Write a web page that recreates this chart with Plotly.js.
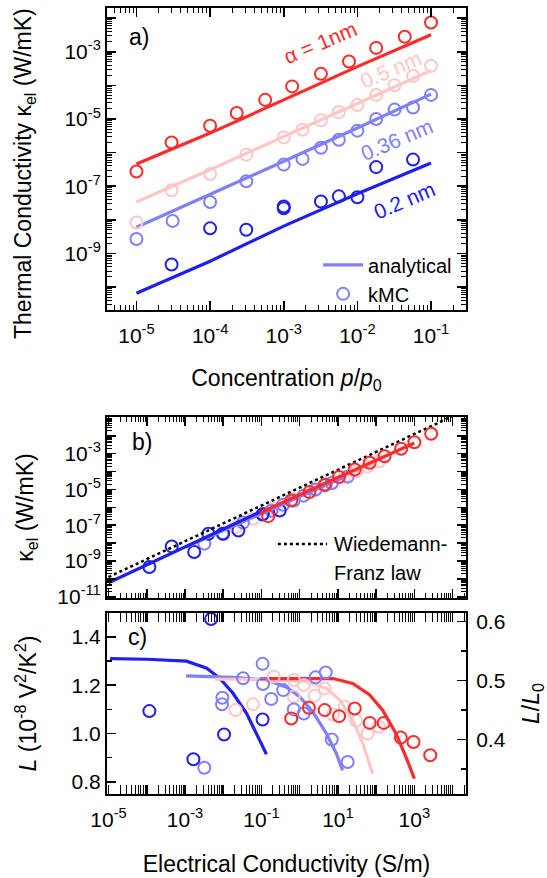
<!DOCTYPE html>
<html><head><meta charset="utf-8">
<script src="https://cdn.plot.ly/plotly-3.0.1.min.js"></script>
<style>html,body{margin:0;padding:0;background:#fff}#chart{width:547px;height:878px}</style>
</head><body><div id="chart"></div>
<script>
// ---------- colours ----------
const cRed = '#ff2a2a', cPink = '#ffc6c6', cLBlue = '#7f7fff', cBlue = '#2020ee';

// ---------- panel a: analytical lines (kappa vs p/p0) ----------
const concLine = [1e-5, 1e-4, 1e-3, 1e-2, 1e-1];
const kapLineRed   = [4.6e-7, 3.8e-6, 3.7e-5, 3.6e-4, 3.2e-3];
const kapLinePink  = [3.4e-8, 3.1e-7, 3.0e-6, 2.95e-5, 2.75e-4];
const kapLineLBlue = [6.0e-9, 5.6e-8, 5.5e-7, 5.4e-6, 5.5e-5];
const kapLineBlue  = [6.6e-11, 5.9e-10, 6.5e-9, 6.0e-8, 4.9e-7];

// ---------- panel a: kMC points ----------
const concRed   = [1e-5, 3e-5, 1e-4, 2.3e-4, 5.6e-4, 1.3e-3, 3.2e-3, 7.7e-3, 1.8e-2, 4.4e-2, 1e-1];
const kapRed    = [2.75e-7, 2.0e-6, 6.3e-6, 1.5e-5, 3.7e-5, 9.3e-5, 2.2e-4, 5.1e-4, 1.3e-3, 2.8e-3, 7.4e-3];
const concPink  = [1e-5, 3e-5, 1e-4, 3.1e-4, 1e-3, 1.8e-3, 3.2e-3, 5.6e-3, 1e-2, 1.8e-2, 3.2e-2, 5.7e-2, 1e-1];
const kapPink   = [8.3e-9, 7.6e-8, 2.3e-7, 8.7e-7, 2.8e-6, 4.8e-6, 9.1e-6, 1.6e-5, 2.6e-5, 5.2e-5, 1.0e-4, 1.9e-4, 3.8e-4];
const concLBlue = [1e-5, 3.1e-5, 1e-4, 3.1e-4, 1e-3, 1.8e-3, 3.2e-3, 5.6e-3, 1e-2, 1.8e-2, 3.2e-2, 5.7e-2, 1e-1];
const kapLBlue  = [2.7e-9, 9.3e-9, 3.4e-8, 1.4e-7, 4.4e-7, 6.5e-7, 1.4e-6, 2.4e-6, 4.5e-6, 1.0e-5, 1.9e-5, 2.2e-5, 5.2e-5];
const concBlue  = [3e-5, 1e-4, 3.1e-4, 1e-3, 1e-3, 3.2e-3, 5.6e-3, 1e-2, 1.8e-2, 5.7e-2];
const kapBlue   = [4.7e-10, 5.6e-9, 5.1e-9, 2.5e-8, 2.2e-8, 3.5e-8, 5.0e-8, 4.7e-8, 3.7e-7, 6.2e-7];

// ---------- panel b: kappa vs sigma ----------
const sigWF = [1e-5, 1e4];
const kapWF = [1.26e-10, 1.26e-1];
const sigLineBRed = [9.1e-2, 1e3],   kapLineBRed = [5.0e-7, 4.0e-3];
const sigLineBPink = [6.2e-3, 8.1e1], kapLineBPink = [3.4e-8, 2.75e-4];
const sigLineBLBlue = [1.07e-3, 1.6e1], kapLineBLBlue = [6.0e-9, 5.5e-5];
const sigLineBBlue = [1e-5, 1.1e-1],  kapLineBBlue = [6.0e-11, 6.6e-7];

const sigBRed  = [1.5e-1, 6.0e-1, 1.8, 4.5, 1.07e1, 2.75e1, 6.8e1, 1.66e2, 4.5e2, 1.0e3, 2.75e3];
const kapBRed  = [3.2e-7, 2.4e-6, 7.1e-6, 1.8e-5, 4.9e-5, 1.3e-4, 3.1e-4, 7.2e-4, 1.9e-3, 4.4e-3, 1.3e-2];
const sigBPink = [2.1e-2, 6.0e-2, 2.1e-1, 7.0e-1, 1.3, 2.5, 4.5, 7.4, 1.5e1, 3.0e1, 6.0e1, 1.2e2];
const kapBPink = [7.6e-8, 2.3e-7, 8.7e-7, 2.8e-6, 4.8e-6, 9.1e-6, 1.6e-5, 2.6e-5, 5.2e-5, 1.0e-4, 1.9e-4, 3.8e-4];
const sigBLBlue = [3.2e-3, 9.5e-3, 3.3e-2, 1.1e-1, 1.8e-1, 3.7e-1, 7.0e-1, 1.27, 2.6, 4.8, 6.9, 1.8e1];
const kapBLBlue = [9.3e-9, 3.4e-8, 1.4e-7, 4.4e-7, 6.5e-7, 1.4e-6, 2.4e-6, 4.5e-6, 1.0e-5, 1.9e-5, 2.2e-5, 5.2e-5];
const sigBBlue = [1.17e-4, 4.5e-4, 1.74e-3, 4.1e-3, 1e-2, 2.5e-2, 1.07e-1, 3.0e-1];
const kapBBlue = [4.6e-10, 6.5e-9, 3.2e-9, 3.3e-8, 3.3e-8, 5.0e-8, 4.0e-7, 6.6e-7];

// ---------- panel c: Lorenz number vs sigma ----------
const sigLineCRed   = [9.1e-2, 7.4, 2.45e1, 6.8e1, 1.48e2, 3.3e2, 6.0e2, 1.0e3];
const LLineCRed     = [1.228, 1.228, 1.208, 1.160, 1.097, 1.000, 0.903, 0.813];
const sigLineCPink  = [6.0e-3, 1.35e-1, 1.5, 5.0, 1.12e1, 2.45e1, 4.5e1, 8.1e1];
const LLineCPink    = [1.225, 1.225, 1.215, 1.187, 1.139, 1.055, 0.958, 0.833];
const sigLineCLBlue = [1.07e-3, 1.8e-2, 1.35e-1, 4.5e-1, 1.0, 2.2, 5.0, 9.1, 1.32e1];
const LLineCLBlue   = [1.239, 1.233, 1.222, 1.192, 1.153, 1.090, 1.000, 0.917, 0.847];
const sigLineCBlue  = [1.1e-5, 1e-4, 1.1e-3, 1.66e-3, 3.7e-3, 8.1e-3, 1.8e-2, 4.1e-2, 7.4e-2, 1.35e-1];
const LLineCBlue    = [1.311, 1.308, 1.300, 1.290, 1.271, 1.229, 1.167, 1.083, 1.000, 0.914];

const sigCRed   = [6.0e-1, 1.74, 4.5, 1.07e1, 2.75e1, 6.8e1, 1.58e2, 4.4e2, 9.5e2, 2.6e3];
const LCRed     = [1.062, 1.107, 1.097, 1.072, 1.104, 1.044, 1.044, 0.983, 0.965, 0.910];
const sigCPink  = [2.1e-2, 6.0e-2, 2.1e-1, 7.0e-1, 7.0e-1, 1.28, 2.45, 4.5, 7.4, 1.5e1, 3.0e1, 6.0e1, 1.17e2];
const LCPink    = [1.097, 1.121, 1.236, 1.222, 1.153, 1.201, 1.157, 1.187, 1.079, 1.111, 1.053, 1.000, 1.028];
const sigCLBlue = [3.2e-3, 9.5e-3, 9.3e-3, 3.3e-2, 1.07e-1, 1.1e-1, 1.8e-1, 3.7e-1, 7.0e-1, 1.28, 2.6, 4.8, 6.9, 1.8e1];
const LCLBlue   = [0.858, 1.148, 1.121, 1.229, 1.289, 1.205, 1.143, 1.180, 1.100, 1.083, 1.233, 1.253, 0.975, 0.882];
const sigCBlue  = [1.17e-4, 1.66e-3, 4.8e-3, 1.05e-2, 1.07e-1];
const LCBlue    = [1.093, 0.893, 1.475, 0.996, 1.058];

// ---------- tick labels ----------
const tickA_x = [1e-5, 1e-4, 1e-3, 1e-2, 1e-1];
const tickA_xText = ['10<sup>-5</sup>', '10<sup>-4</sup>', '10<sup>-3</sup>', '10<sup>-2</sup>', '10<sup>-1</sup>'];
const tickA_y = [1e-10, 1e-9, 1e-8, 1e-7, 1e-6, 1e-5, 1e-4, 1e-3, 1e-2];
const tickA_yText = ['', '10<sup>-9</sup>', '', '10<sup>-7</sup>', '', '10<sup>-5</sup>', '', '10<sup>-3</sup>', ''];
const tickB_y = [1e-11, 1e-10, 1e-9, 1e-8, 1e-7, 1e-6, 1e-5, 1e-4, 1e-3, 1e-2, 1e-1];
const tickB_yText = ['10<sup>-11</sup>', '', '10<sup>-9</sup>', '', '10<sup>-7</sup>', '', '10<sup>-5</sup>', '', '10<sup>-3</sup>', '', ''];
const tickC_x = [1e-5, 1e-4, 1e-3, 1e-2, 1e-1, 1, 1e1, 1e2, 1e3, 1e4];
const tickC_xText = ['10<sup>-5</sup>', '', '10<sup>-3</sup>', '', '10<sup>-1</sup>', '', '10<sup>1</sup>', '', '10<sup>3</sup>', ''];
const tickC_y = [0.8, 1.0, 1.2, 1.4];
const tickC_yText = ['0.8', '1.0', '1.2', '1.4'];
const tickC_y2 = [0.4, 0.5, 0.6];
const tickC_y2Text = ['0.4', '0.5', '0.6'];

function minorLog(lo, hi) { // minor tick positions 2..9 x 10^n
  const v = [];
  for (let e = lo; e <= hi; e++) for (let m = 2; m <= 9; m++) v.push(m * Math.pow(10, e));
  return v;
}

const FONT = 'Liberation Sans, Arial, sans-serif';
const tickFont = {family: FONT, size: 21, color: '#000'};
const titleFont = {family: FONT, size: 23, color: '#000'};

function axis(extra) {
  return Object.assign({
    showline: true, linewidth: 2, linecolor: '#000', mirror: 'allticks',
    ticks: 'inside', ticklen: 9, tickwidth: 1.6, tickcolor: '#000',
    showgrid: false, zeroline: false, tickfont: tickFont, tickmode: 'array',
    fixedrange: true
  }, extra);
}

const lw = 3.2;
function line(x, y, color, xa, ya, extra) {
  return Object.assign({x: x, y: y, xaxis: xa, yaxis: ya, mode: 'lines', line: {color: color, width: lw}, showlegend: false, hoverinfo: 'skip'}, extra || {});
}
function pts(x, y, color, xa, ya, extra) {
  return Object.assign({x: x, y: y, xaxis: xa, yaxis: ya, mode: 'markers',
    marker: {symbol: 'circle-open', size: 12, color: color, line: {color: color, width: 2}},
    showlegend: false, hoverinfo: 'skip'}, extra || {});
}

const traces = [
  // panel a
  line(concLine, kapLineBlue, cBlue, 'x', 'y'),
  line(concLine, kapLineLBlue, cLBlue, 'x', 'y', {showlegend: true, name: 'analytical'}),
  line(concLine, kapLinePink, cPink, 'x', 'y'),
  line(concLine, kapLineRed, cRed, 'x', 'y'),
  pts(concBlue, kapBlue, cBlue, 'x', 'y'),
  pts(concLBlue, kapLBlue, cLBlue, 'x', 'y', {showlegend: true, name: 'kMC'}),
  pts(concPink, kapPink, cPink, 'x', 'y'),
  pts(concRed, kapRed, cRed, 'x', 'y'),
  // panel b
  pts(sigBPink, kapBPink, cPink, 'x2', 'y2'),
  pts(sigBLBlue, kapBLBlue, cLBlue, 'x2', 'y2'),
  pts(sigBBlue, kapBBlue, cBlue, 'x2', 'y2'),
  line(sigLineBPink, kapLineBPink, cPink, 'x2', 'y2'),
  line(sigLineBLBlue, kapLineBLBlue, cLBlue, 'x2', 'y2'),
  line(sigWF, kapWF, '#000', 'x2', 'y2', {line: {color: '#000', width: 2.5, dash: 'dot'}}),
  line(sigLineBBlue, kapLineBBlue, cBlue, 'x2', 'y2'),
  pts(sigBRed, kapBRed, cRed, 'x2', 'y2'),
  line(sigLineBRed, kapLineBRed, cRed, 'x2', 'y2'),
  // panel c
  line(sigLineCBlue, LLineCBlue, cBlue, 'x3', 'y3'),
  line(sigLineCLBlue, LLineCLBlue, cLBlue, 'x3', 'y3'),
  line(sigLineCPink, LLineCPink, cPink, 'x3', 'y3'),
  line(sigLineCRed, LLineCRed, cRed, 'x3', 'y3'),
  pts(sigCPink, LCPink, cPink, 'x3', 'y3'),
  pts(sigCLBlue, LCLBlue, cLBlue, 'x3', 'y3'),
  pts(sigCBlue, LCBlue, cBlue, 'x3', 'y3'),
  pts(sigCRed, LCRed, cRed, 'x3', 'y3'),
  {x: [1e-3], y: [0.5], xaxis: 'x3', yaxis: 'y4', mode: 'markers', marker: {opacity: 0}, showlegend: false, hoverinfo: 'skip'}
];

const layout = {
  width: 547, height: 878,
  margin: {l: 107, r: 81, t: 8, b: 84},
  paper_bgcolor: '#fff', plot_bgcolor: '#fff',
  font: {family: FONT, color: '#000'},
  showlegend: true,
  legend: {x: 0.588, y: 0.698, xanchor: 'left', yanchor: 'top', bgcolor: 'rgba(0,0,0,0)',
    font: {family: FONT, size: 20, color: '#000'}, tracegroupgap: 0, itemwidth: 40},
  xaxis: axis({type: 'log', domain: [0, 1], anchor: 'y', range: [-5.40, -0.525],
    tickvals: tickA_x, ticktext: tickA_xText, ticklabelstandoff: 6,
    minor: {ticks: 'inside', ticklen: 5, tickwidth: 1, tickcolor: '#000', tickvals: minorLog(-6, -1)},
    title: {text: 'Concentration <i>p</i>/<i>p</i><sub>0</sub>', font: titleFont, standoff: 24}}),
  yaxis: axis({type: 'log', domain: [0.6158, 1], anchor: 'x', range: [-10.68, -1.70],
    tickvals: tickA_y, ticktext: tickA_yText,
    minor: {ticks: 'inside', ticklen: 5, tickwidth: 1, tickcolor: '#000', tickvals: minorLog(-11, -2)}}),
  xaxis2: axis({type: 'log', domain: [0, 1], anchor: 'y2', range: [-5.04, 4.35],
    tickvals: tickC_x, showticklabels: false,
    minor: {ticks: 'inside', ticklen: 5, tickwidth: 1, tickcolor: '#000', tickvals: minorLog(-6, 4)}}),
  yaxis2: axis({type: 'log', domain: [0.2494, 0.4796], anchor: 'x2', range: [-11.07, -0.95],
    tickvals: tickB_y, ticktext: tickB_yText,
    minor: {ticks: 'inside', ticklen: 5, tickwidth: 1, tickcolor: '#000', tickvals: minorLog(-12, -1)},
    title: {text: 'κ<sub>el</sub> (W/mK)', font: titleFont, standoff: 17}}),
  xaxis3: axis({type: 'log', domain: [0, 1], anchor: 'y3', range: [-5.04, 4.35],
    tickvals: tickC_x, ticktext: tickC_xText, ticklabelstandoff: 6,
    minor: {ticks: 'inside', ticklen: 5, tickwidth: 1, tickcolor: '#000', tickvals: minorLog(-6, 4)},
    title: {text: 'Electrical Conductivity (S/m)', font: titleFont, standoff: 26}}),
  yaxis3: axis({type: 'linear', domain: [0, 0.2303], anchor: 'x3', range: [0.749, 1.50], mirror: false,
    tickvals: tickC_y, ticktext: tickC_yText,
    minor: {ticks: 'inside', ticklen: 5, tickwidth: 1.6, tickcolor: '#000', tickvals: [0.9, 1.1, 1.3]},
    title: {text: '<i>L</i> (10<sup>-8</sup> V<sup>2</sup>/K<sup>2</sup>)', font: titleFont, standoff: 29}}),
  yaxis4: axis({type: 'linear', overlaying: 'y3', side: 'right', anchor: 'x3', range: [0.307, 0.6148], mirror: false,
    tickvals: tickC_y2, ticktext: tickC_y2Text, ticklabelstandoff: 4,
    minor: {ticks: 'inside', ticklen: 5, tickwidth: 1.6, tickcolor: '#000', tickvals: [0.35, 0.45, 0.55]},
    title: {text: '<i>L</i>/<i>L</i><sub>0</sub>', font: titleFont, standoff: 22}}),
  annotations: [
    // panel a y-axis title (placed as rotated text so it can sit where the reference has it)
    {xref: 'paper', yref: 'paper', x: (25 - 107) / 359, y: (794 - 174) / 786, xanchor: 'center', yanchor: 'middle',
     text: 'Thermal Conductivity κ<sub>el</sub> (W/mK)', textangle: -90, showarrow: false, font: titleFont},
    {xref: 'paper', yref: 'paper', x: 0.089, y: 0.963, text: 'a)', showarrow: false, font: {family: FONT, size: 23, color: '#000'}, xanchor: 'center', yanchor: 'middle'},
    {xref: 'paper', yref: 'paper', x: 0.0975, y: 0.448, text: 'b)', showarrow: false, font: {family: FONT, size: 23, color: '#000'}, xanchor: 'center', yanchor: 'middle'},
    {xref: 'paper', yref: 'paper', x: 0.086, y: 0.200, text: 'c)', showarrow: false, font: {family: FONT, size: 23, color: '#000'}, xanchor: 'center', yanchor: 'middle'},
    {xref: 'x', yref: 'y', x: -2.5, y: -2.74, text: 'α = 1nm', textangle: -23, showarrow: false, font: {family: FONT, size: 21, color: cRed}},
    {xref: 'x', yref: 'y', x: -1.55, y: -3.54, text: '0.5 nm', textangle: -23, showarrow: false, font: {family: FONT, size: 21, color: cPink}},
    {xref: 'x', yref: 'y', x: -1.46, y: -5.62, text: '0.36 nm', textangle: -23, showarrow: false, font: {family: FONT, size: 21, color: cLBlue}},
    {xref: 'x', yref: 'y', x: -1.37, y: -7.41, text: '0.2 nm', textangle: -23, showarrow: false, font: {family: FONT, size: 21, color: cBlue}},
    {xref: 'paper', yref: 'paper', x: 0.627, y: 0.318, xanchor: 'left', yanchor: 'middle', text: 'Wiedemann-', showarrow: false, font: {family: FONT, size: 20, color: '#000'}},
    {xref: 'paper', yref: 'paper', x: 0.627, y: 0.2815, xanchor: 'left', yanchor: 'middle', text: 'Franz law', showarrow: false, font: {family: FONT, size: 20, color: '#000'}}
  ],
  shapes: [
    {type: 'line', xref: 'paper', yref: 'paper', x0: 0.476, x1: 0.613, y0: 0.318, y1: 0.318, line: {color: '#000', width: 2.5, dash: 'dot'}}
  ]
};

Plotly.newPlot('chart', traces, layout, {displayModeBar: false, staticPlot: true});
</script></body></html>
